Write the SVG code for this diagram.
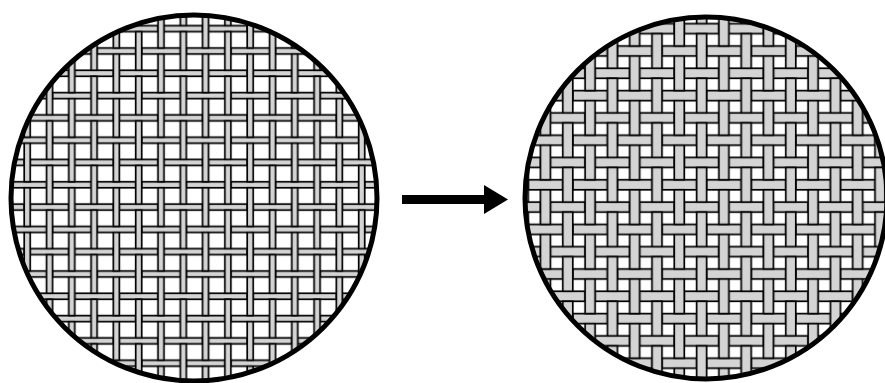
<svg xmlns="http://www.w3.org/2000/svg" width="885" height="383" viewBox="0 0 885 383">
  <style>
    .strip { fill: #d4d4d4; stroke: #000; stroke-width: 1.7; }
    .ring { stroke: #000; stroke-width: 5; }
    .bg { fill: #fff; }
  </style>
  <defs>
    <pattern id="weaveL" patternUnits="userSpaceOnUse" x="149.85" y="151.35" width="44.6" height="44.6">
      <rect class="strip" x="14.15" y="8.15" width="38.6" height="6"/>
      <rect class="strip" x="-30.45" y="8.15" width="38.6" height="6"/>
      <rect class="strip" x="-8.15" y="30.45" width="38.6" height="6"/>
      <rect class="strip" x="36.45" y="30.45" width="38.6" height="6"/>
      <rect class="strip" x="8.15" y="-8.15" width="6" height="38.6"/>
      <rect class="strip" x="8.15" y="36.45" width="6" height="38.6"/>
      <rect class="strip" x="30.45" y="14.15" width="6" height="38.6"/>
      <rect class="strip" x="30.45" y="-30.45" width="6" height="38.6"/>
    </pattern>
    <pattern id="weaveR" patternUnits="userSpaceOnUse" x="668.15" y="151.35" width="44.6" height="44.6">
      <rect class="strip" x="16.15" y="6.15" width="34.6" height="10"/>
      <rect class="strip" x="-28.45" y="6.15" width="34.6" height="10"/>
      <rect class="strip" x="-6.15" y="28.45" width="34.6" height="10"/>
      <rect class="strip" x="38.45" y="28.45" width="34.6" height="10"/>
      <rect class="strip" x="6.15" y="-6.15" width="10" height="34.6"/>
      <rect class="strip" x="6.15" y="38.45" width="10" height="34.6"/>
      <rect class="strip" x="28.45" y="16.15" width="10" height="34.6"/>
      <rect class="strip" x="28.45" y="-28.45" width="10" height="34.6"/>
    </pattern>
  </defs>
  <g id="before">
    <circle class="bg" cx="194" cy="198" r="183"/>
    <circle cx="194" cy="198" r="183" fill="url(#weaveL)"/>
    <circle class="ring" cx="194" cy="198" r="183" fill="none"/>
  </g>
  <g id="after">
    <circle class="bg" cx="706" cy="198" r="181"/>
    <circle cx="706" cy="198" r="181" fill="url(#weaveR)"/>
    <circle class="ring" cx="706" cy="198" r="181" fill="none"/>
  </g>
  <g id="connectors">
    <rect x="402" y="195" width="83" height="9" fill="#000"/>
    <polygon points="484,185 508,199.5 484,214" fill="#000"/>
  </g>
</svg>
